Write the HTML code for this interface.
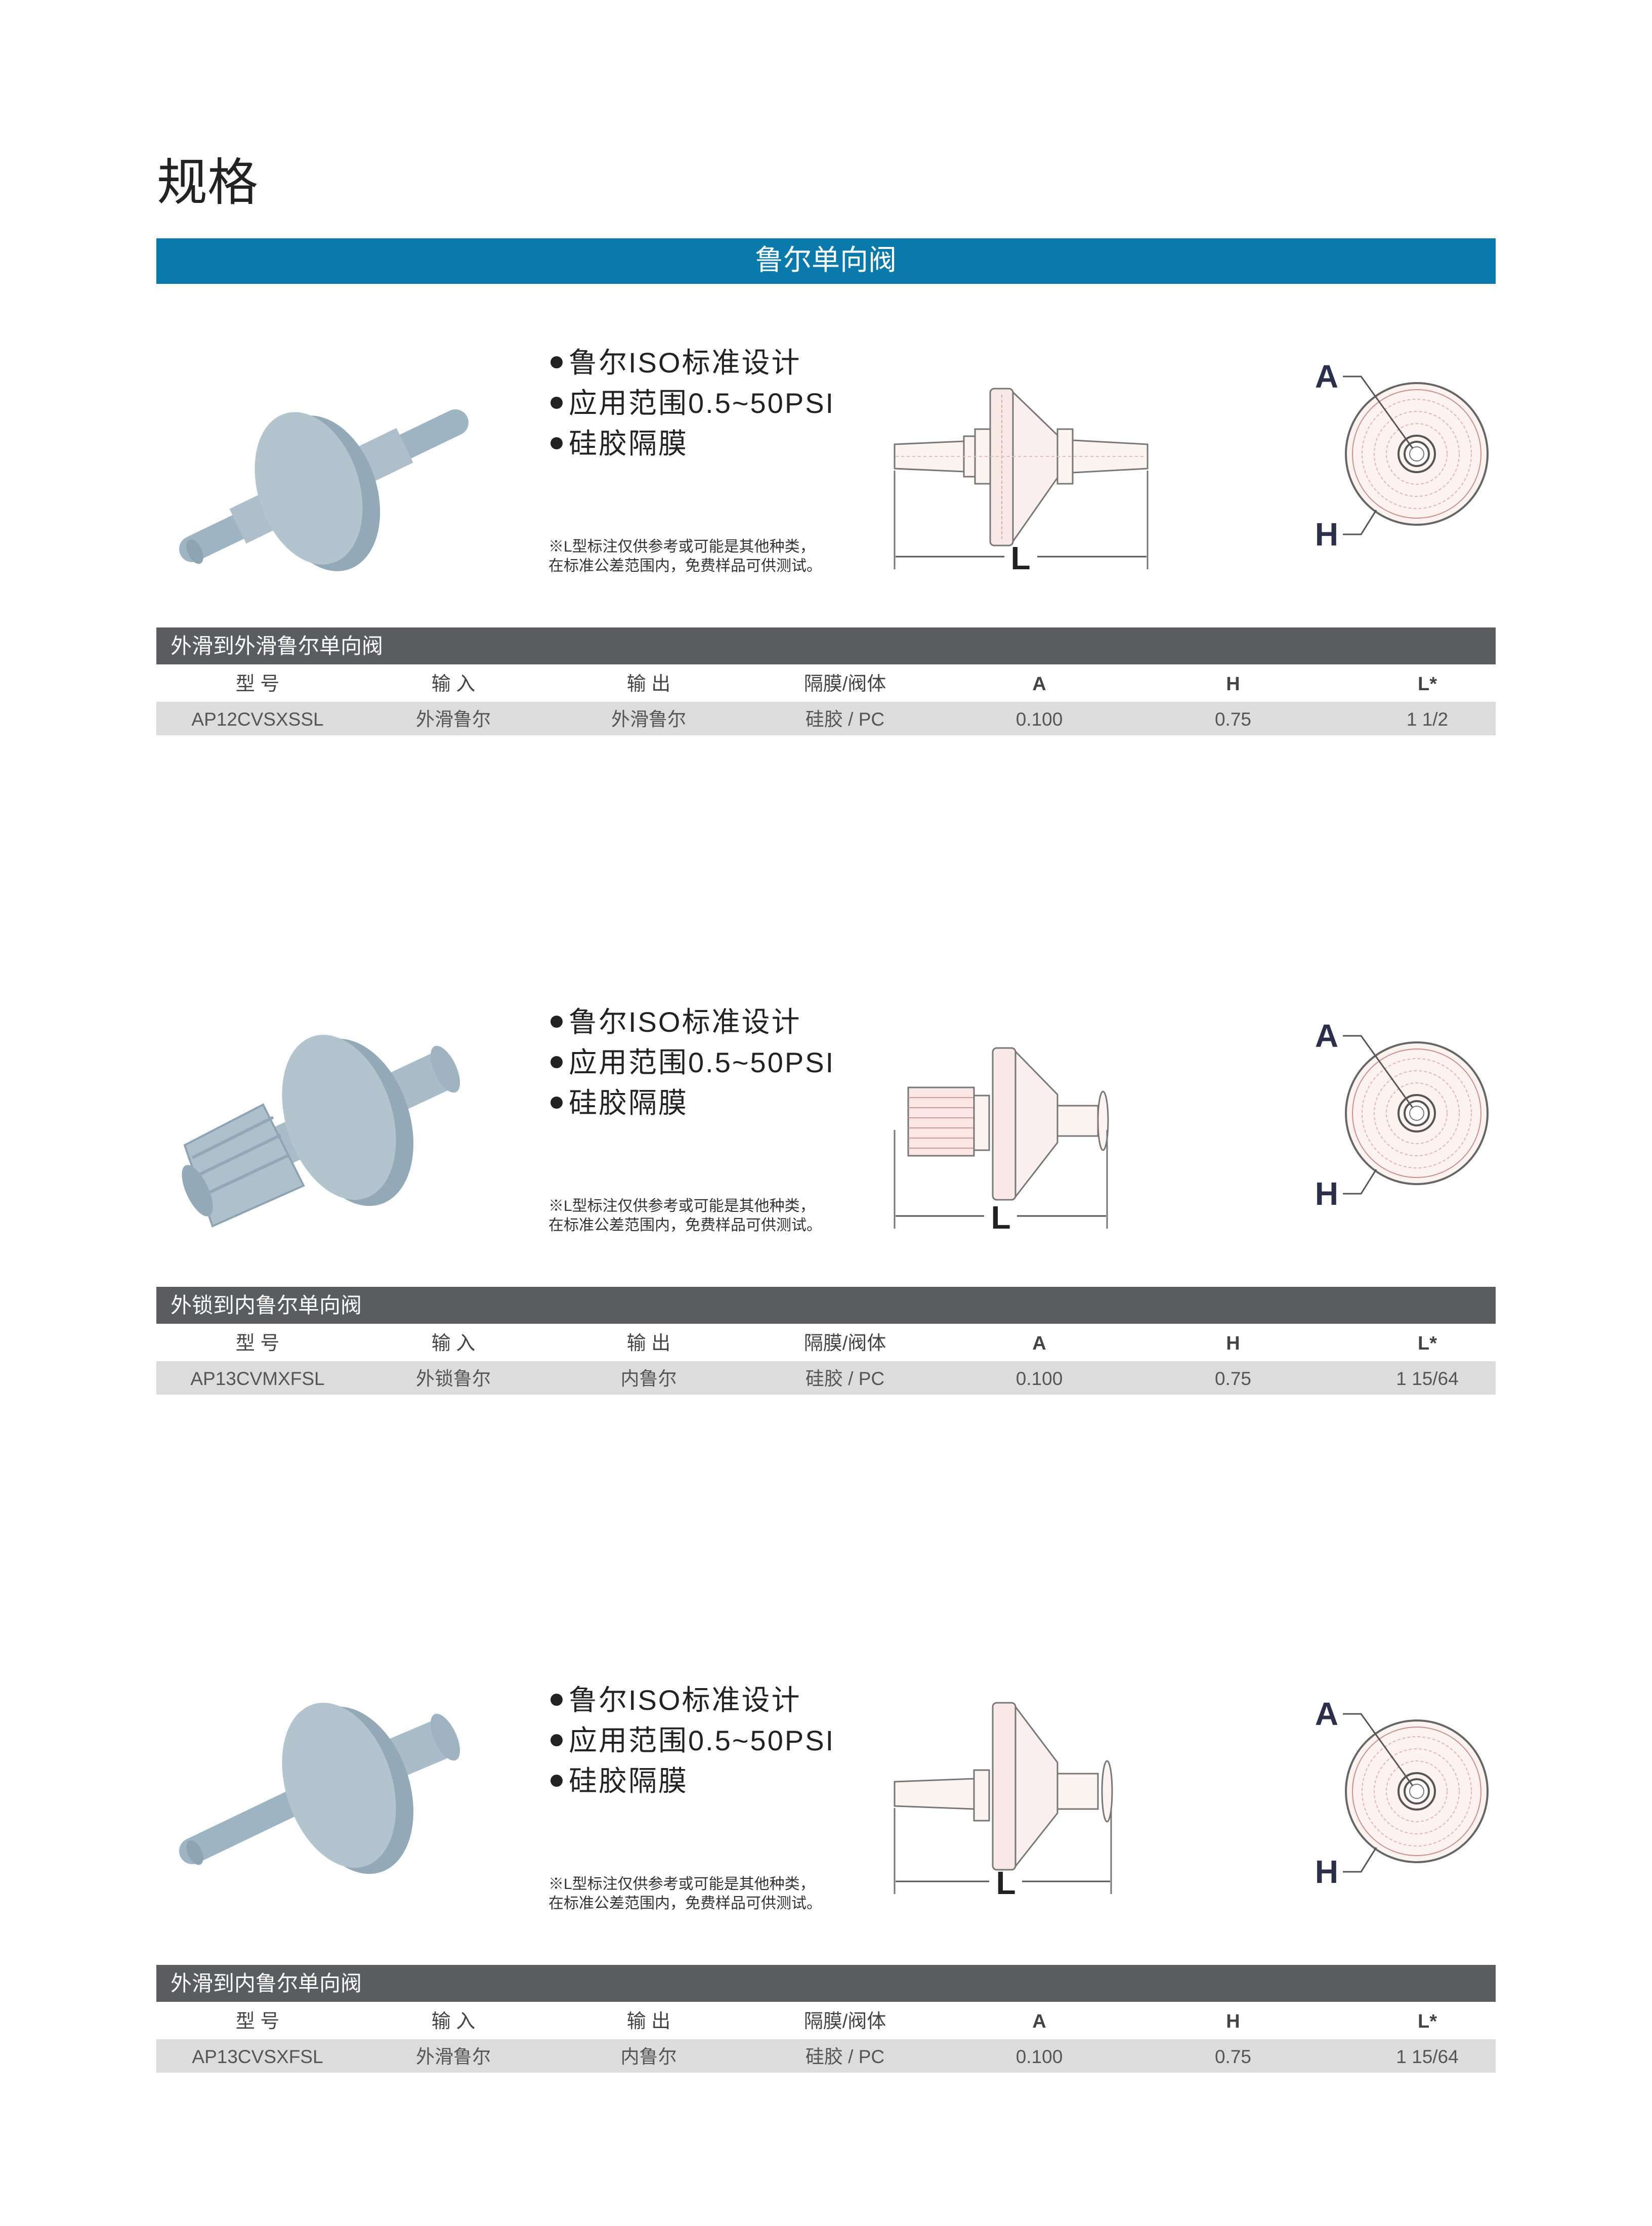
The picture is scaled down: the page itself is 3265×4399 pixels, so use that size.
<!DOCTYPE html>
<html><head><meta charset="utf-8"><style>
html,body{margin:0;padding:0;background:#fff}
svg{display:block}
text{font-family:"Liberation Sans","Noto Sans CJK SC",sans-serif}
</style></head><body>
<svg width="3265" height="4399" viewBox="0 0 3265 4399" xmlns="http://www.w3.org/2000/svg">
<defs>
<g id="side1">
  <path d="M1768 878 L1905 872 L1905 932 L1768 926 Z" fill="#fbf3f0" stroke="#777" stroke-width="3"/>
  <rect x="1905" y="862" width="22" height="80" fill="#fbf3f0" stroke="#777" stroke-width="3"/>
  <rect x="1927" y="848" width="30" height="108" fill="#fbf3f0" stroke="#777" stroke-width="3"/>
  <rect x="1957" y="768" width="45" height="310" rx="8" fill="#f9e9e6" stroke="#777" stroke-width="3"/>
  <path d="M2002 775 L2090 860 L2090 944 L2002 1070 Z" fill="#fbeeee" stroke="#777" stroke-width="3"/>
  <rect x="2090" y="848" width="30" height="108" fill="#fbf3f0" stroke="#777" stroke-width="3"/>
  <path d="M2120 870 L2268 878 L2268 926 L2120 934 Z" fill="#fbf3f0" stroke="#777" stroke-width="3"/>
  <line x1="1980" y1="780" x2="1980" y2="1065" stroke="#d9a9a5" stroke-width="2" stroke-dasharray="6 4"/>
  <line x1="1770" y1="902" x2="2265" y2="902" stroke="#e4bdb8" stroke-width="2" stroke-dasharray="6 5"/>
  <line x1="1768" y1="930" x2="1768" y2="1125" stroke="#777" stroke-width="3"/>
  <line x1="2268" y1="930" x2="2268" y2="1125" stroke="#777" stroke-width="3"/>
  <line x1="1770" y1="1100" x2="1985" y2="1100" stroke="#555" stroke-width="3"/>
  <line x1="2050" y1="1100" x2="2266" y2="1100" stroke="#555" stroke-width="3"/>
  <text x="2017" y="1125" font-size="64" font-weight="bold" fill="#222" text-anchor="middle">L</text>
</g>
<g id="circ">
  <circle cx="2800" cy="897" r="140" fill="#fcf2f0" stroke="#666" stroke-width="4"/>
  <circle cx="2800" cy="897" r="127" fill="none" stroke="#c9908c" stroke-width="2"/>
  <circle cx="2800" cy="897" r="108" fill="none" stroke="#e2b5b0" stroke-width="2" stroke-dasharray="6 4"/>
  <circle cx="2800" cy="897" r="84" fill="none" stroke="#e2b5b0" stroke-width="2" stroke-dasharray="6 4"/>
  <circle cx="2800" cy="897" r="60" fill="none" stroke="#e2b5b0" stroke-width="2" stroke-dasharray="6 4"/>
  <circle cx="2800" cy="897" r="36" fill="none" stroke="#555" stroke-width="4"/>
  <circle cx="2800" cy="897" r="24" fill="#fff" stroke="#555" stroke-width="4"/>
  <circle cx="2800" cy="897" r="14" fill="#fff" stroke="#777" stroke-width="2"/>
  <text x="2622" y="766" font-size="64" font-weight="bold" fill="#2b2f4a" text-anchor="middle">A</text>
  <text x="2622" y="1078" font-size="64" font-weight="bold" fill="#2b2f4a" text-anchor="middle">H</text>
  <path d="M2654 744 L2690 744 L2792 886" fill="none" stroke="#555" stroke-width="3"/>
  <path d="M2654 1056 L2690 1056 L2720 1008" fill="none" stroke="#555" stroke-width="3"/>
</g>
<g id="bullets">
  <circle cx="1100" cy="716" r="12" fill="#222"/>
  <circle cx="1100" cy="796" r="12" fill="#222"/>
  <circle cx="1100" cy="876" r="12" fill="#222"/>
  <text x="1124" y="736" font-size="56" fill="#222" letter-spacing="3">鲁尔ISO标准设计</text>
  <text x="1124" y="816" font-size="56" fill="#222" letter-spacing="3">应用范围0.5~50PSI</text>
  <text x="1124" y="896" font-size="56" fill="#222" letter-spacing="3">硅胶隔膜</text>
  <text x="1084" y="1090" font-size="30" fill="#333">※L型标注仅供参考或可能是其他种类，</text>
  <text x="1084" y="1128" font-size="30" fill="#333">在标准公差范围内，免费样品可供测试。</text>
</g>
<g id="tablehead">
  <rect x="309" y="1240" width="2647" height="73" fill="#5a5c5f"/>
  <g font-size="38" fill="#444" text-anchor="middle">
    <text x="509" y="1364">型 号</text><text x="896" y="1364">输 入</text><text x="1282" y="1364">输 出</text><text x="1670" y="1364">隔膜/阀体</text>
    <text x="2054" y="1364" font-weight="bold">A</text><text x="2437" y="1364" font-weight="bold">H</text><text x="2821" y="1364" font-weight="bold">L*</text>
  </g>
  <rect x="309" y="1387" width="2647" height="66" fill="#dcdcdd"/>
</g>
</defs>

<text x="310" y="395" font-size="100" fill="#222">规格</text>
<rect x="309" y="471" width="2647" height="90" fill="#0a7aad"/>
<text x="1632" y="533" font-size="56" fill="#fff" text-anchor="middle">鲁尔单向阀</text>

<!-- SECTION 1 -->
<g>
  <use href="#bullets"/><use href="#side1"/><use href="#circ"/>
  <line x1="380" y1="1085" x2="900" y2="835" stroke="#9fb4c2" stroke-width="52" stroke-linecap="round"/>
  <line x1="470" y1="1040" x2="800" y2="880" stroke="#aebfcb" stroke-width="76"/>
  <ellipse cx="640" cy="975" rx="105" ry="158" transform="rotate(-18 640 975)" fill="#93a9b7"/>
  <ellipse cx="610" cy="965" rx="100" ry="155" transform="rotate(-18 610 965)" fill="#b3c4cf"/>
  <ellipse cx="385" cy="1090" rx="14" ry="26" transform="rotate(-25 385 1090)" fill="#8ea4b2"/>
  <use href="#tablehead"/>
  <text x="337" y="1291" font-size="42" fill="#fff">外滑到外滑鲁尔单向阀</text>
  <g font-size="37" fill="#555" text-anchor="middle">
    <text x="509" y="1434">AP12CVSXSSL</text><text x="896" y="1434">外滑鲁尔</text><text x="1282" y="1434">外滑鲁尔</text><text x="1670" y="1434">硅胶 / PC</text>
    <text x="2054" y="1434">0.100</text><text x="2437" y="1434">0.75</text><text x="2821" y="1434">1  1/2</text>
  </g>
</g>

<!-- SECTION 2 -->
<g transform="translate(0,1303)">
  <use href="#bullets"/><use href="#circ"/>
  <rect x="1795" y="846" width="130" height="135" fill="#fbe8e6" stroke="#777" stroke-width="3"/>
  <g stroke="#c79c98" stroke-width="2"><line x1="1795" y1="866" x2="1925" y2="866"/><line x1="1795" y1="886" x2="1925" y2="886"/><line x1="1795" y1="906" x2="1925" y2="906"/><line x1="1795" y1="926" x2="1925" y2="926"/><line x1="1795" y1="946" x2="1925" y2="946"/><line x1="1795" y1="966" x2="1925" y2="966"/></g>
  <rect x="1925" y="862" width="30" height="108" fill="#fbf3f0" stroke="#777" stroke-width="3"/>
  <rect x="1962" y="768" width="45" height="300" rx="8" fill="#f9e9e6" stroke="#777" stroke-width="3"/>
  <path d="M2007 775 L2090 860 L2090 955 L2007 1062 Z" fill="#fbeeee" stroke="#777" stroke-width="3"/>
  <rect x="2090" y="882" width="80" height="60" fill="#fbf3f0" stroke="#777" stroke-width="3"/>
  <ellipse cx="2180" cy="912" rx="10" ry="58" fill="#fbf3f0" stroke="#777" stroke-width="3"/>
  <line x1="1768" y1="930" x2="1768" y2="1125" stroke="#777" stroke-width="3"/>
  <line x1="2188" y1="930" x2="2188" y2="1125" stroke="#777" stroke-width="3"/>
  <line x1="1770" y1="1100" x2="1945" y2="1100" stroke="#555" stroke-width="3"/>
  <line x1="2010" y1="1100" x2="2186" y2="1100" stroke="#555" stroke-width="3"/>
  <text x="1978" y="1125" font-size="64" font-weight="bold" fill="#222" text-anchor="middle">L</text>
  <line x1="560" y1="960" x2="880" y2="810" stroke="#a9bcc8" stroke-width="80"/>
  <ellipse cx="880" cy="810" rx="22" ry="50" transform="rotate(-25 880 810)" fill="#9fb3c0"/>
  <path d="M365 960 L520 880 L600 1040 L420 1120 Z" fill="#adc0cc" stroke="#8fa4b2" stroke-width="4"/>
  <g stroke="#92a8b6" stroke-width="6"><line x1="380" y1="985" x2="540" y2="905"/><line x1="390" y1="1020" x2="555" y2="940"/><line x1="400" y1="1060" x2="570" y2="980"/></g>
  <ellipse cx="390" cy="1050" rx="22" ry="55" transform="rotate(-25 390 1050)" fill="#93a9b7"/>
  <ellipse cx="700" cy="915" rx="110" ry="170" transform="rotate(-18 700 915)" fill="#93a9b7"/>
  <ellipse cx="670" cy="905" rx="105" ry="168" transform="rotate(-18 670 905)" fill="#b3c4cf"/>
  <use href="#tablehead"/>
  <text x="337" y="1291" font-size="42" fill="#fff">外锁到内鲁尔单向阀</text>
  <g font-size="37" fill="#555" text-anchor="middle">
    <text x="509" y="1434">AP13CVMXFSL</text><text x="896" y="1434">外锁鲁尔</text><text x="1282" y="1434">内鲁尔</text><text x="1670" y="1434">硅胶 / PC</text>
    <text x="2054" y="1434">0.100</text><text x="2437" y="1434">0.75</text><text x="2821" y="1434">1  15/64</text>
  </g>
</g>

<!-- SECTION 3 -->
<g transform="translate(0,2643)">
  <use href="#bullets"/><use href="#circ"/>
  <path d="M1768 878 L1925 872 L1925 932 L1768 926 Z" fill="#fbf3f0" stroke="#777" stroke-width="3"/>
  <rect x="1925" y="855" width="30" height="100" fill="#fbf3f0" stroke="#777" stroke-width="3"/>
  <rect x="1962" y="722" width="45" height="330" rx="8" fill="#f9e9e6" stroke="#777" stroke-width="3"/>
  <path d="M2007 730 L2090 840 L2090 940 L2007 1045 Z" fill="#fbeeee" stroke="#777" stroke-width="3"/>
  <rect x="2090" y="862" width="80" height="70" fill="#fbf3f0" stroke="#777" stroke-width="3"/>
  <ellipse cx="2188" cy="897" rx="10" ry="60" fill="#fbf3f0" stroke="#777" stroke-width="3"/>
  <line x1="1768" y1="930" x2="1768" y2="1100" stroke="#777" stroke-width="3"/>
  <line x1="2196" y1="930" x2="2196" y2="1100" stroke="#777" stroke-width="3"/>
  <line x1="1770" y1="1075" x2="1955" y2="1075" stroke="#555" stroke-width="3"/>
  <line x1="2020" y1="1075" x2="2194" y2="1075" stroke="#555" stroke-width="3"/>
  <text x="1988" y="1100" font-size="64" font-weight="bold" fill="#222" text-anchor="middle">L</text>
  <line x1="380" y1="1015" x2="620" y2="900" stroke="#9fb4c2" stroke-width="52" stroke-linecap="round"/>
  <line x1="620" y1="900" x2="880" y2="790" stroke="#a9bcc8" stroke-width="80"/>
  <ellipse cx="880" cy="790" rx="22" ry="50" transform="rotate(-25 880 790)" fill="#9fb3c0"/>
  <ellipse cx="700" cy="895" rx="110" ry="170" transform="rotate(-18 700 895)" fill="#93a9b7"/>
  <ellipse cx="670" cy="885" rx="105" ry="168" transform="rotate(-18 670 885)" fill="#b3c4cf"/>
  <ellipse cx="385" cy="1018" rx="14" ry="26" transform="rotate(-25 385 1018)" fill="#8ea4b2"/>
  <use href="#tablehead"/>
  <text x="337" y="1291" font-size="42" fill="#fff">外滑到内鲁尔单向阀</text>
  <g font-size="37" fill="#555" text-anchor="middle">
    <text x="509" y="1434">AP13CVSXFSL</text><text x="896" y="1434">外滑鲁尔</text><text x="1282" y="1434">内鲁尔</text><text x="1670" y="1434">硅胶 / PC</text>
    <text x="2054" y="1434">0.100</text><text x="2437" y="1434">0.75</text><text x="2821" y="1434">1  15/64</text>
  </g>
</g>
</svg>
</body></html>
